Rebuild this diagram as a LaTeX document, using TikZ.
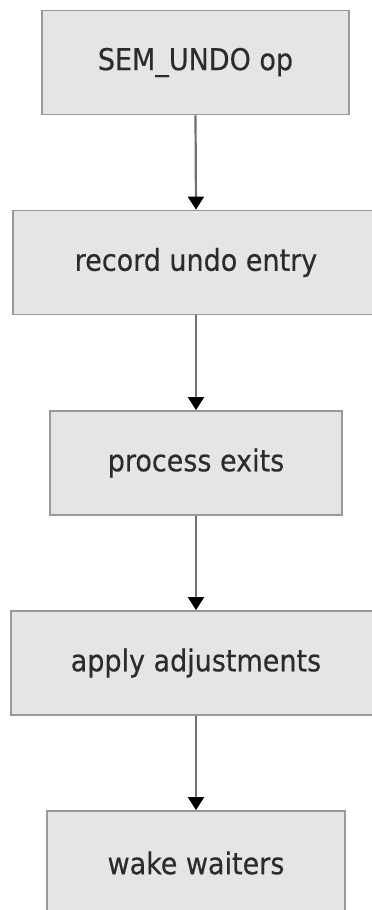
\documentclass[tikz,border=0pt]{standalone}
\usepackage{fontspec}
\setmainfont{DejaVu Sans Condensed}[FakeBold=0.4]
\usetikzlibrary{arrows.meta}
\definecolor{boxfill}{HTML}{E5E5E5}
\definecolor{boxline}{HTML}{999999}
\definecolor{textcol}{HTML}{2B2B2B}
\definecolor{flowline}{HTML}{707070}
\begin{document}
\begin{tikzpicture}[x=1pt,y=1pt,
  stepbox/.style={draw=boxline,line width=1.8pt,fill=boxfill,text=textcol,
    font=\fontsize{30}{35}\selectfont,minimum height=104pt,inner sep=0pt},
  flow/.style={draw=flowline,line width=2.2pt,-{Triangle[length=13pt,width=16pt,fill=black,color=black]}}]
  \useasboundingbox (0,0) rectangle (372,-910);
  \fill[white] (0,0) rectangle (372,-910);
  \node[stepbox,minimum width=307pt] (n1) at (195.5,-62.5) {SEM\_UNDO op};
  \node[stepbox,minimum width=366pt] (n2) at (196,-262.5) {record undo entry};
  \node[stepbox,minimum width=292pt] (n3) at (196,-463) {process exits};
  \node[stepbox,minimum width=370pt] (n4) at (196,-663) {apply adjustments};
  \node[stepbox,minimum width=298pt] (n5) at (196,-863) {wake waiters};
  \draw[flow] (n1.south) -- (n2.north);
  \draw[flow] (n2.south) -- (n3.north);
  \draw[flow] (n3.south) -- (n4.north);
  \draw[flow] (n4.south) -- (n5.north);
\end{tikzpicture}
\end{document}
